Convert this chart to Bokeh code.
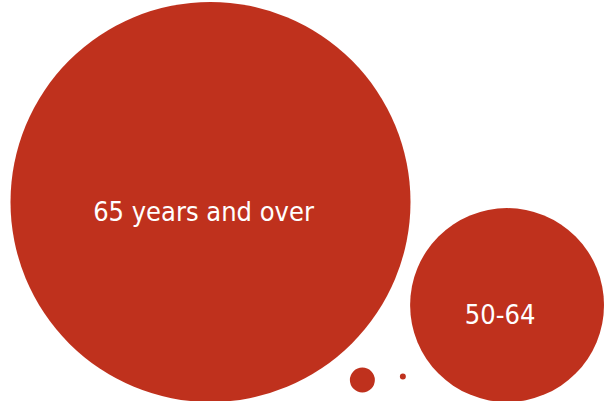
import math
from bokeh.plotting import figure
from bokeh.models import ColumnDataSource, Range1d
from bokeh.core.properties import value
from bokeh.embed import file_html
from bokeh.resources import INLINE

# ---- data (relative share, bubble area) ----
groups = ["65 years and over", "50-64", "35-49", "Under 35"]
values = [100.0, 23.5, 0.39, 0.0225]
labels = ["65 years and over", "50-64", "", ""]

# ---- layout ----
W, H = 607, 401
max_r = 200.0
pad_left = 10.0
bottom = 401.5
gap12 = 17.0
gap13 = 21.5
lift3 = 9.5
gap34 = 25.0
lift4 = 22.5

radii = [max_r * math.sqrt(v / max(values)) for v in values]
r1, r2, r3, r4 = radii

x1 = pad_left + r1
y1 = bottom - r1
y2 = bottom - r2
x2 = x1 + math.sqrt((r1 + r2 + gap12) ** 2 - (y2 - y1) ** 2)
y3 = bottom - lift3 - r3
x3 = x1 + math.sqrt((r1 + r3 + gap13) ** 2 - (y3 - y1) ** 2)
y4 = bottom - lift4 - r4
x4 = x3 + r3 + gap34 + r4

xs = [x1, x2, x3, x4]
ys = [y1, y2, y3, y4]

src = ColumnDataSource(dict(x=xs, y=ys, r=radii, group=groups, label=labels))

p = figure(width=W, height=H, output_backend="svg", toolbar_location=None,
           x_range=Range1d(0, W), y_range=Range1d(H, 0),
           min_border=0, outline_line_color=None)
p.axis.visible = False
p.grid.visible = False
p.background_fill_color = "white"
p.border_fill_color = "white"

p.circle(x="x", y="y", radius="r", source=src,
         fill_color="#bf311d", line_color=None)

p.text(x="x", y="y", text="label", source=src,
       text_color="white", text_font=value("DejaVu Sans Condensed"),
       text_font_size="27px", text_align="center", text_baseline="middle",
       x_offset=-7, y_offset=9)

open("out.html", "w").write(file_html(p, INLINE))
